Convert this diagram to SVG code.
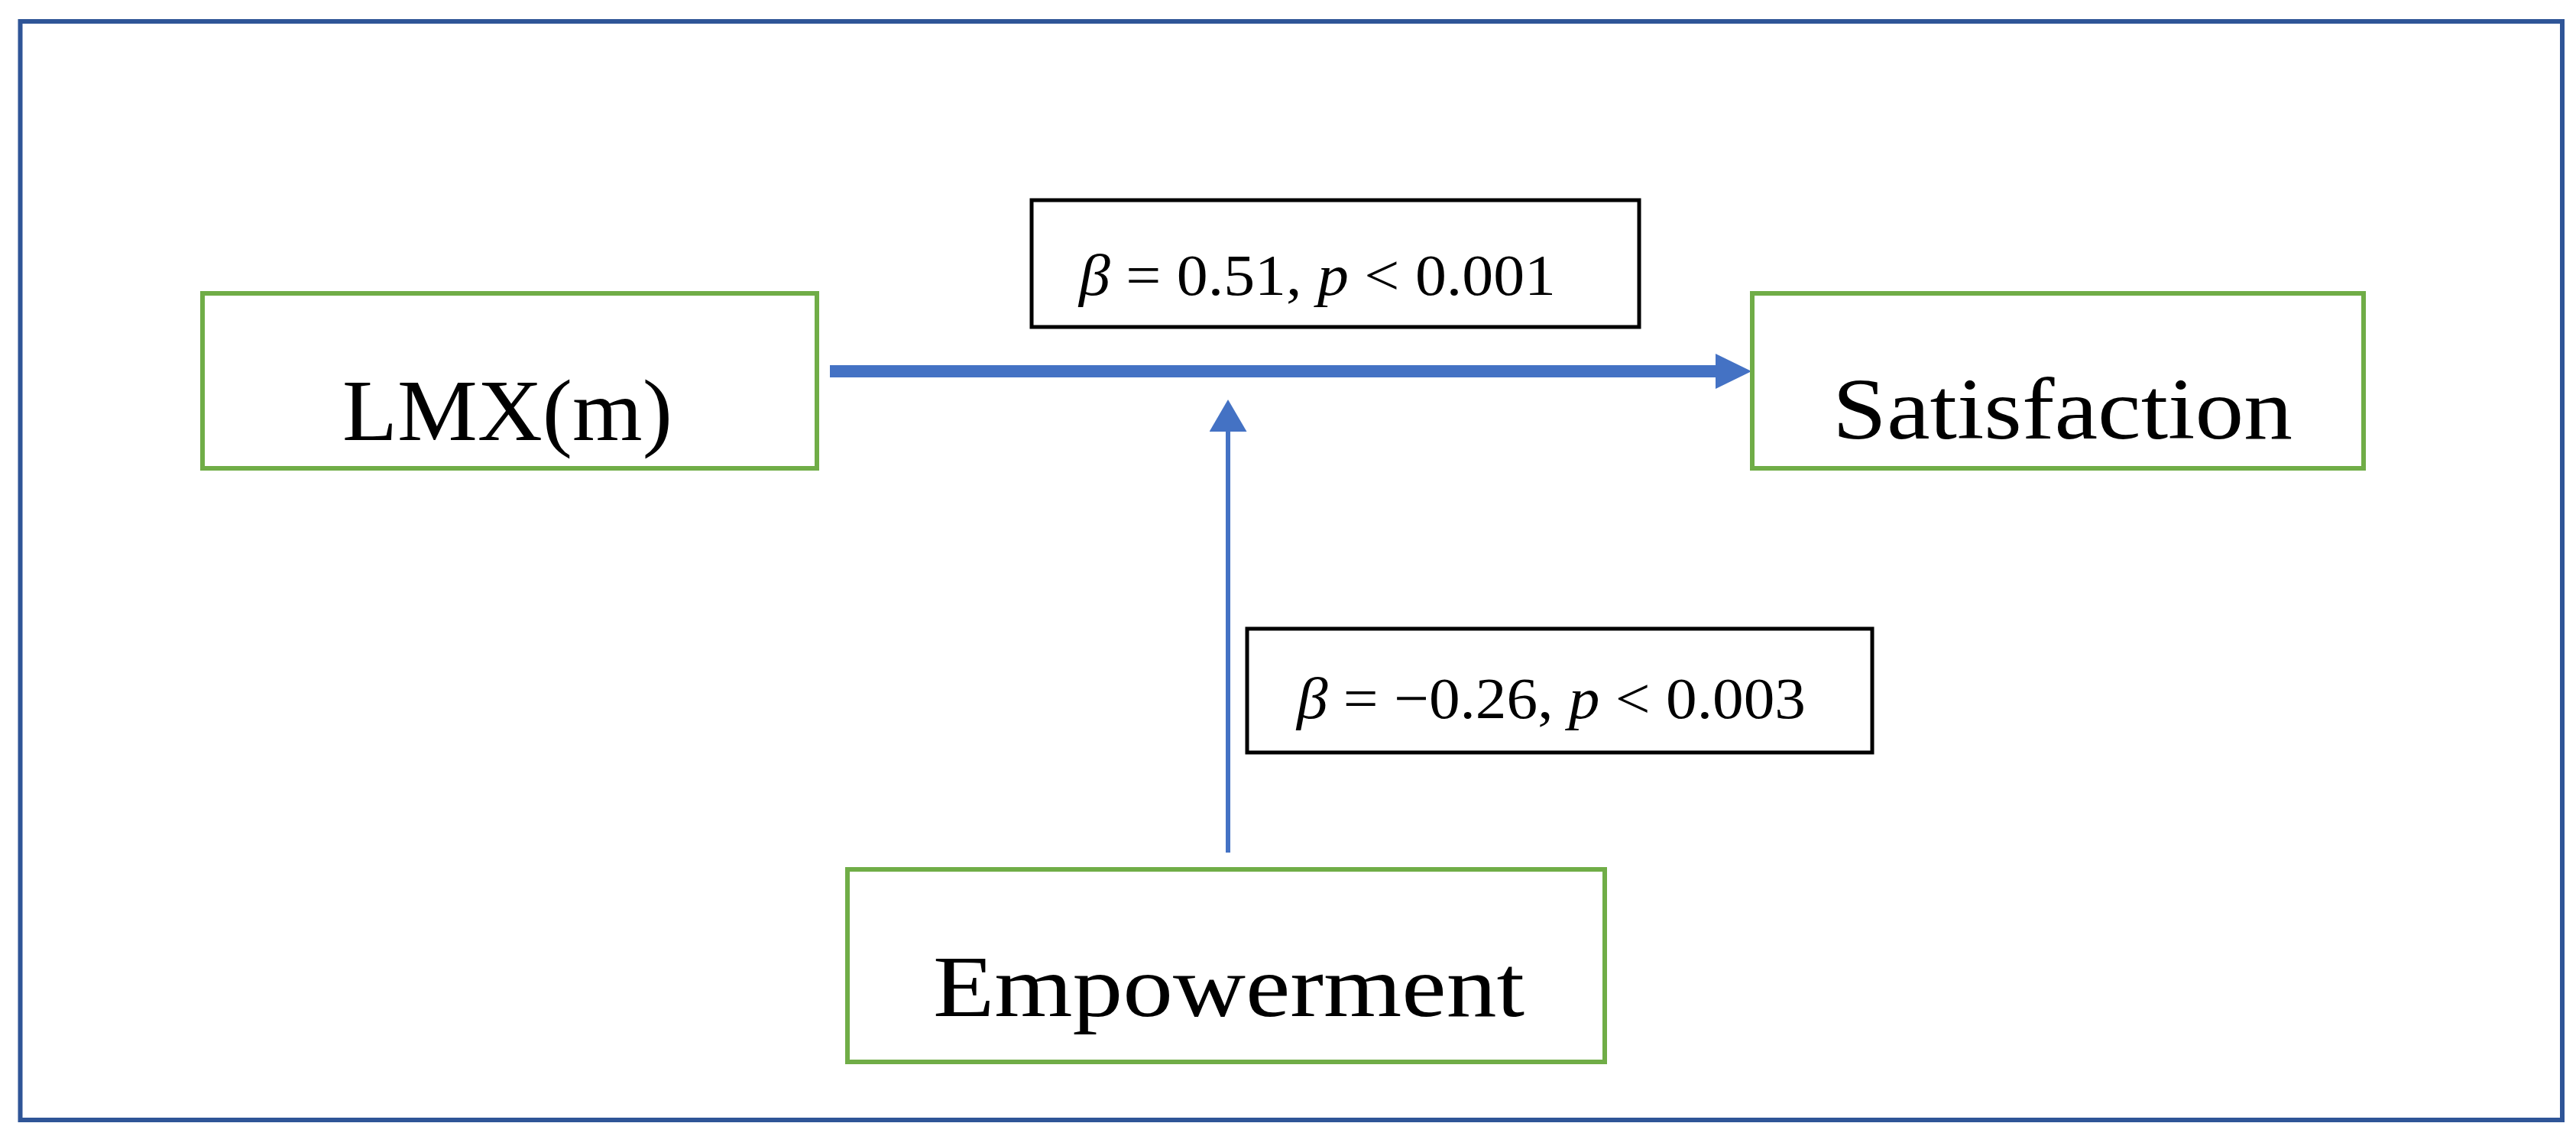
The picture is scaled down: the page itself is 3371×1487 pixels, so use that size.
<svg xmlns="http://www.w3.org/2000/svg" width="3371" height="1487" viewBox="0 0 3371 1487">
<style>
.frame{fill:none;stroke:#2F5597;stroke-width:6}
.node{fill:#FFFFFF;stroke:#70AD47;stroke-width:6}
.lbl{fill:#FFFFFF;stroke:#000000;stroke-width:5}
.nt{font-family:"Liberation Serif","Times New Roman",serif;font-size:114px;fill:#000000}
.lt{font-family:"Liberation Serif","Times New Roman",serif;font-size:77px;fill:#000000}
.it{font-style:italic}
.conn{stroke:#4472C4;fill:none}
</style>
<defs>
<marker id="headBig" markerUnits="userSpaceOnUse" markerWidth="50" markerHeight="48" viewBox="0 0 50 48" refX="5" refY="23" orient="auto">
<path d="M0,0 L47,23 L0,46 z" fill="#4472C4"/>
</marker>
<marker id="headSmall" markerUnits="userSpaceOnUse" markerWidth="46" markerHeight="52" viewBox="0 0 46 52" refX="3" refY="24.5" orient="auto">
<path d="M0,0 L42,24.5 L0,49 z" fill="#4472C4"/>
</marker>
</defs>
<rect width="3371" height="1487" fill="#FFFFFF"/>
<rect class="frame" x="26.5" y="28" width="3326.5" height="1438"/>
<g id="connectors">
<line class="conn" x1="1086" y1="486" x2="2250" y2="486" stroke-width="16" marker-end="url(#headBig)"/>
<line class="conn" x1="1607" y1="1116" x2="1607" y2="562" stroke-width="6" marker-end="url(#headSmall)"/>
</g>
<g id="node-lmx">
<rect class="node" x="265" y="384" width="804" height="229"/>
<text class="nt" x="448" y="576" textLength="432" lengthAdjust="spacingAndGlyphs">LMX(m)</text>
</g>
<g id="node-satisfaction">
<rect class="node" x="2293" y="384" width="800" height="229"/>
<text class="nt" x="2398" y="574" textLength="602" lengthAdjust="spacingAndGlyphs">Satisfaction</text>
</g>
<g id="node-empowerment">
<rect class="node" x="1109" y="1138" width="991" height="252"/>
<text class="nt" x="1221" y="1330" textLength="774" lengthAdjust="spacingAndGlyphs">Empowerment</text>
</g>
<g id="label-main">
<rect class="lbl" x="1350" y="262" width="795" height="166"/>
<text class="lt" x="1412" y="386" textLength="624" lengthAdjust="spacingAndGlyphs"><tspan class="it">β</tspan> = 0.51, <tspan class="it">p</tspan> &lt; 0.001</text>
</g>
<g id="label-moderation">
<rect class="lbl" x="1632" y="823" width="818" height="162"/>
<text class="lt" x="1697" y="940" textLength="666" lengthAdjust="spacingAndGlyphs"><tspan class="it">β</tspan> = −0.26, <tspan class="it">p</tspan> &lt; 0.003</text>
</g>
</svg>
